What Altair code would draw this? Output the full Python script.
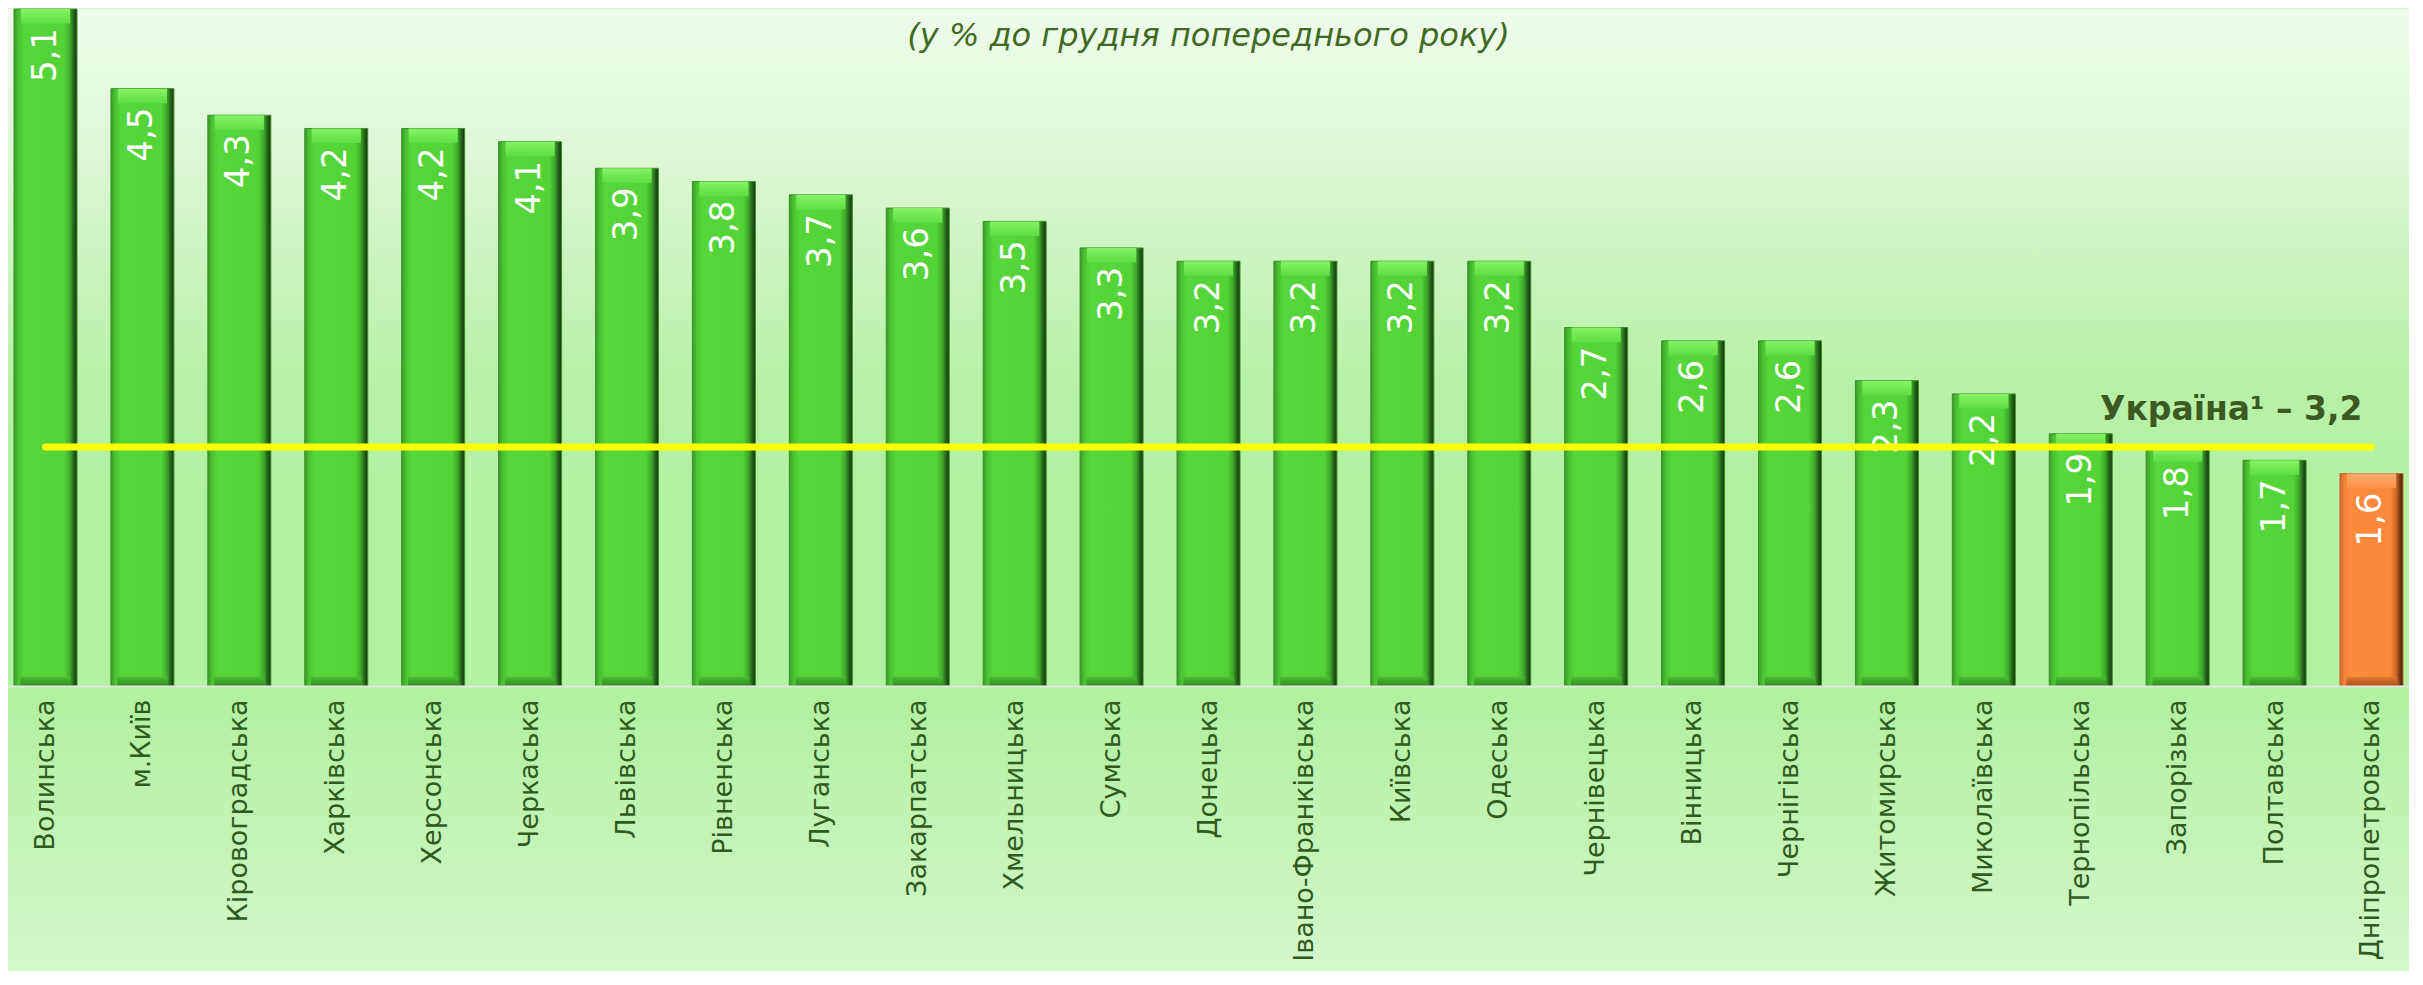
import altair as alt
import pandas as pd

# ---- data ----
regions = ["Волинська", "м.Київ", "Кіровоградська", "Харківська", "Херсонська",
           "Черкаська", "Львівська", "Рівненська", "Луганська", "Закарпатська",
           "Хмельницька", "Сумська", "Донецька", "Івано-Франківська", "Київська",
           "Одеська", "Чернівецька", "Вінницька", "Чернігівська", "Житомирська",
           "Миколаївська", "Тернопільська", "Запорізька", "Полтавська",
           "Дніпропетровська"]
values = [5.1, 4.5, 4.3, 4.2, 4.2, 4.1, 3.9, 3.8, 3.7, 3.6, 3.5, 3.3, 3.2, 3.2,
          3.2, 3.2, 2.7, 2.6, 2.6, 2.3, 2.2, 1.9, 1.8, 1.7, 1.6]
highlighted = ["Дніпропетровська"]
subtitle = "(у % до грудня попереднього року)"
ukraine_label = "Україна¹ – 3,2"
ukraine_line_level = 1.8

W = 2401
H = 677

df = pd.DataFrame({"region": regions, "value": values})
df["label"] = [f"{v:.1f}".replace(".", ",") for v in values]
df["hl"] = df["region"].isin(highlighted)

line_df = pd.DataFrame({"start": [regions[0]], "end": [regions[-1]],
                        "level": [ukraine_line_level], "text": [ukraine_label]})
sub_df = pd.DataFrame({"text": [subtitle]})
bg_df = pd.DataFrame({"k": [0]})

x_scale = alt.Scale(domain=regions, paddingInner=0.35, paddingOuter=0.062)
y_scale = alt.Scale(domain=[0, 5.1], nice=False, zero=True)

X = alt.X("region:N", sort=regions, scale=x_scale, title=None,
          axis=alt.Axis(labelAngle=270, labelFontSize=27, labelFont="DejaVu Sans",
                        labelColor="#2f5b1e", labelPadding=13, ticks=False,
                        domainColor="#dfe8dc", domainWidth=2, labelLimit=400,
                        zindex=1))
Y = alt.Y("value:Q", scale=y_scale, axis=None)

bg_grad = alt.Gradient(gradient="linear", x1=0, x2=0, y1=0, y2=1, stops=[
    alt.GradientStop(offset=0, color="#effcec"),
    alt.GradientStop(offset=0.15, color="#dcf8d4"),
    alt.GradientStop(offset=0.38, color="#b8f1a9"),
    alt.GradientStop(offset=0.5, color="#b2f0a2"),
    alt.GradientStop(offset=0.72, color="#b2f0a2"),
    alt.GradientStop(offset=1, color="#d3f8ca"),
])
background = alt.Chart(bg_df).mark_rect(fill=bg_grad).encode(
    x=alt.value(0), x2=alt.value(W), y=alt.value(0), y2=alt.value(962))

green_grad = alt.Gradient(gradient="linear", x1=0, x2=1, y1=0, y2=0, stops=[
    alt.GradientStop(offset=0, color="#3a9a29"),
    alt.GradientStop(offset=0.07, color="#4bc233"),
    alt.GradientStop(offset=0.16, color="#56d63b"),
    alt.GradientStop(offset=0.8, color="#54d339"),
    alt.GradientStop(offset=0.89, color="#3ea72b"),
    alt.GradientStop(offset=0.95, color="#24601a"),
    alt.GradientStop(offset=1, color="#15350e"),
])
orange_grad = alt.Gradient(gradient="linear", x1=0, x2=1, y1=0, y2=0, stops=[
    alt.GradientStop(offset=0, color="#d0692a"),
    alt.GradientStop(offset=0.07, color="#f2823a"),
    alt.GradientStop(offset=0.16, color="#fc8a3c"),
    alt.GradientStop(offset=0.8, color="#fb893b"),
    alt.GradientStop(offset=0.89, color="#cf6a29"),
    alt.GradientStop(offset=0.95, color="#7a3913"),
    alt.GradientStop(offset=1, color="#3e1c08"),
])
green_cap = alt.Gradient(gradient="linear", x1=0, x2=0, y1=0, y2=1, stops=[
    alt.GradientStop(offset=0, color="#86f266"),
    alt.GradientStop(offset=1, color="#5fdd44"),
])
orange_cap = alt.Gradient(gradient="linear", x1=0, x2=0, y1=0, y2=1, stops=[
    alt.GradientStop(offset=0, color="#fdab70"),
    alt.GradientStop(offset=1, color="#fc9147"),
])
green_foot = alt.Gradient(gradient="linear", x1=0, x2=0, y1=0, y2=1, stops=[
    alt.GradientStop(offset=0, color="#4cbd34"),
    alt.GradientStop(offset=1, color="#348a24"),
])
orange_foot = alt.Gradient(gradient="linear", x1=0, x2=0, y1=0, y2=1, stops=[
    alt.GradientStop(offset=0, color="#e77833"),
    alt.GradientStop(offset=1, color="#a9531c"),
])

base = alt.Chart(df)

green_bars = base.transform_filter("!datum.hl").mark_bar(
    fill=green_grad, stroke="#3c8f2a", strokeWidth=1).encode(x=X, y=Y)
orange_bars = base.transform_filter("datum.hl").mark_bar(
    fill=orange_grad, stroke="#c4642a", strokeWidth=1).encode(x=X, y=Y)

cap_h = 0.11
green_caps = base.transform_filter("!datum.hl").transform_calculate(
    v2=f"datum.value - {cap_h}").mark_bar(
    fill=green_cap, width=alt.RelativeBandSize(0.78)).encode(
    x=X, y=Y, y2="v2:Q")
orange_caps = base.transform_filter("datum.hl").transform_calculate(
    v2=f"datum.value - {cap_h}").mark_bar(
    fill=orange_cap, width=alt.RelativeBandSize(0.78)).encode(
    x=X, y=Y, y2="v2:Q")

foot_h = 0.07
green_feet = base.transform_filter("!datum.hl").transform_calculate(
    v0="0", v1=f"{foot_h}").mark_bar(
    fill=green_foot, width=alt.RelativeBandSize(0.8)).encode(
    x=X, y=alt.Y("v1:Q", scale=y_scale, axis=None), y2="v0:Q")
orange_feet = base.transform_filter("datum.hl").transform_calculate(
    v0="0", v1=f"{foot_h}").mark_bar(
    fill=orange_foot, width=alt.RelativeBandSize(0.8)).encode(
    x=X, y=alt.Y("v1:Q", scale=y_scale, axis=None), y2="v0:Q")

value_labels = base.mark_text(angle=270, align="right", baseline="middle",
                              dx=-19, fontSize=34, font="DejaVu Sans",
                              color="white").encode(x=X, y=Y, text="label:N")

ukr_line = alt.Chart(line_df).mark_rule(color="#ffff00", strokeWidth=7,
                                        strokeCap="round").encode(
    x=alt.X("start:N", sort=regions, scale=x_scale),
    x2="end:N",
    y=alt.Y("level:Q", scale=y_scale, axis=None))

ukr_text = alt.Chart(line_df).mark_text(align="right", baseline="alphabetic",
                                        dx=-9, dy=-27, fontSize=33,
                                        fontWeight="bold", font="DejaVu Sans",
                                        color="#3a5a22").encode(
    x=alt.X("end:N", sort=regions, scale=x_scale),
    y=alt.Y("level:Q", scale=y_scale, axis=None),
    text="text:N")

sub_text = alt.Chart(sub_df).mark_text(align="center", baseline="middle",
                                       fontSize=32, fontStyle="italic",
                                       font="DejaVu Sans", color="#3f6a22").encode(
    x=alt.value(W / 2), y=alt.value(27), text="text:N")

chart = alt.layer(
    background, green_bars, orange_bars, green_caps, orange_caps,
    green_feet, orange_feet, value_labels, ukr_line, ukr_text, sub_text
).properties(
    width=W, height=H,
    padding={"left": 0, "right": 0, "top": 0, "bottom": 0}
).configure_view(stroke=None).configure(background="#d3f8ca")

chart.save("out.html", embed_options={"renderer": "svg", "actions": False})
